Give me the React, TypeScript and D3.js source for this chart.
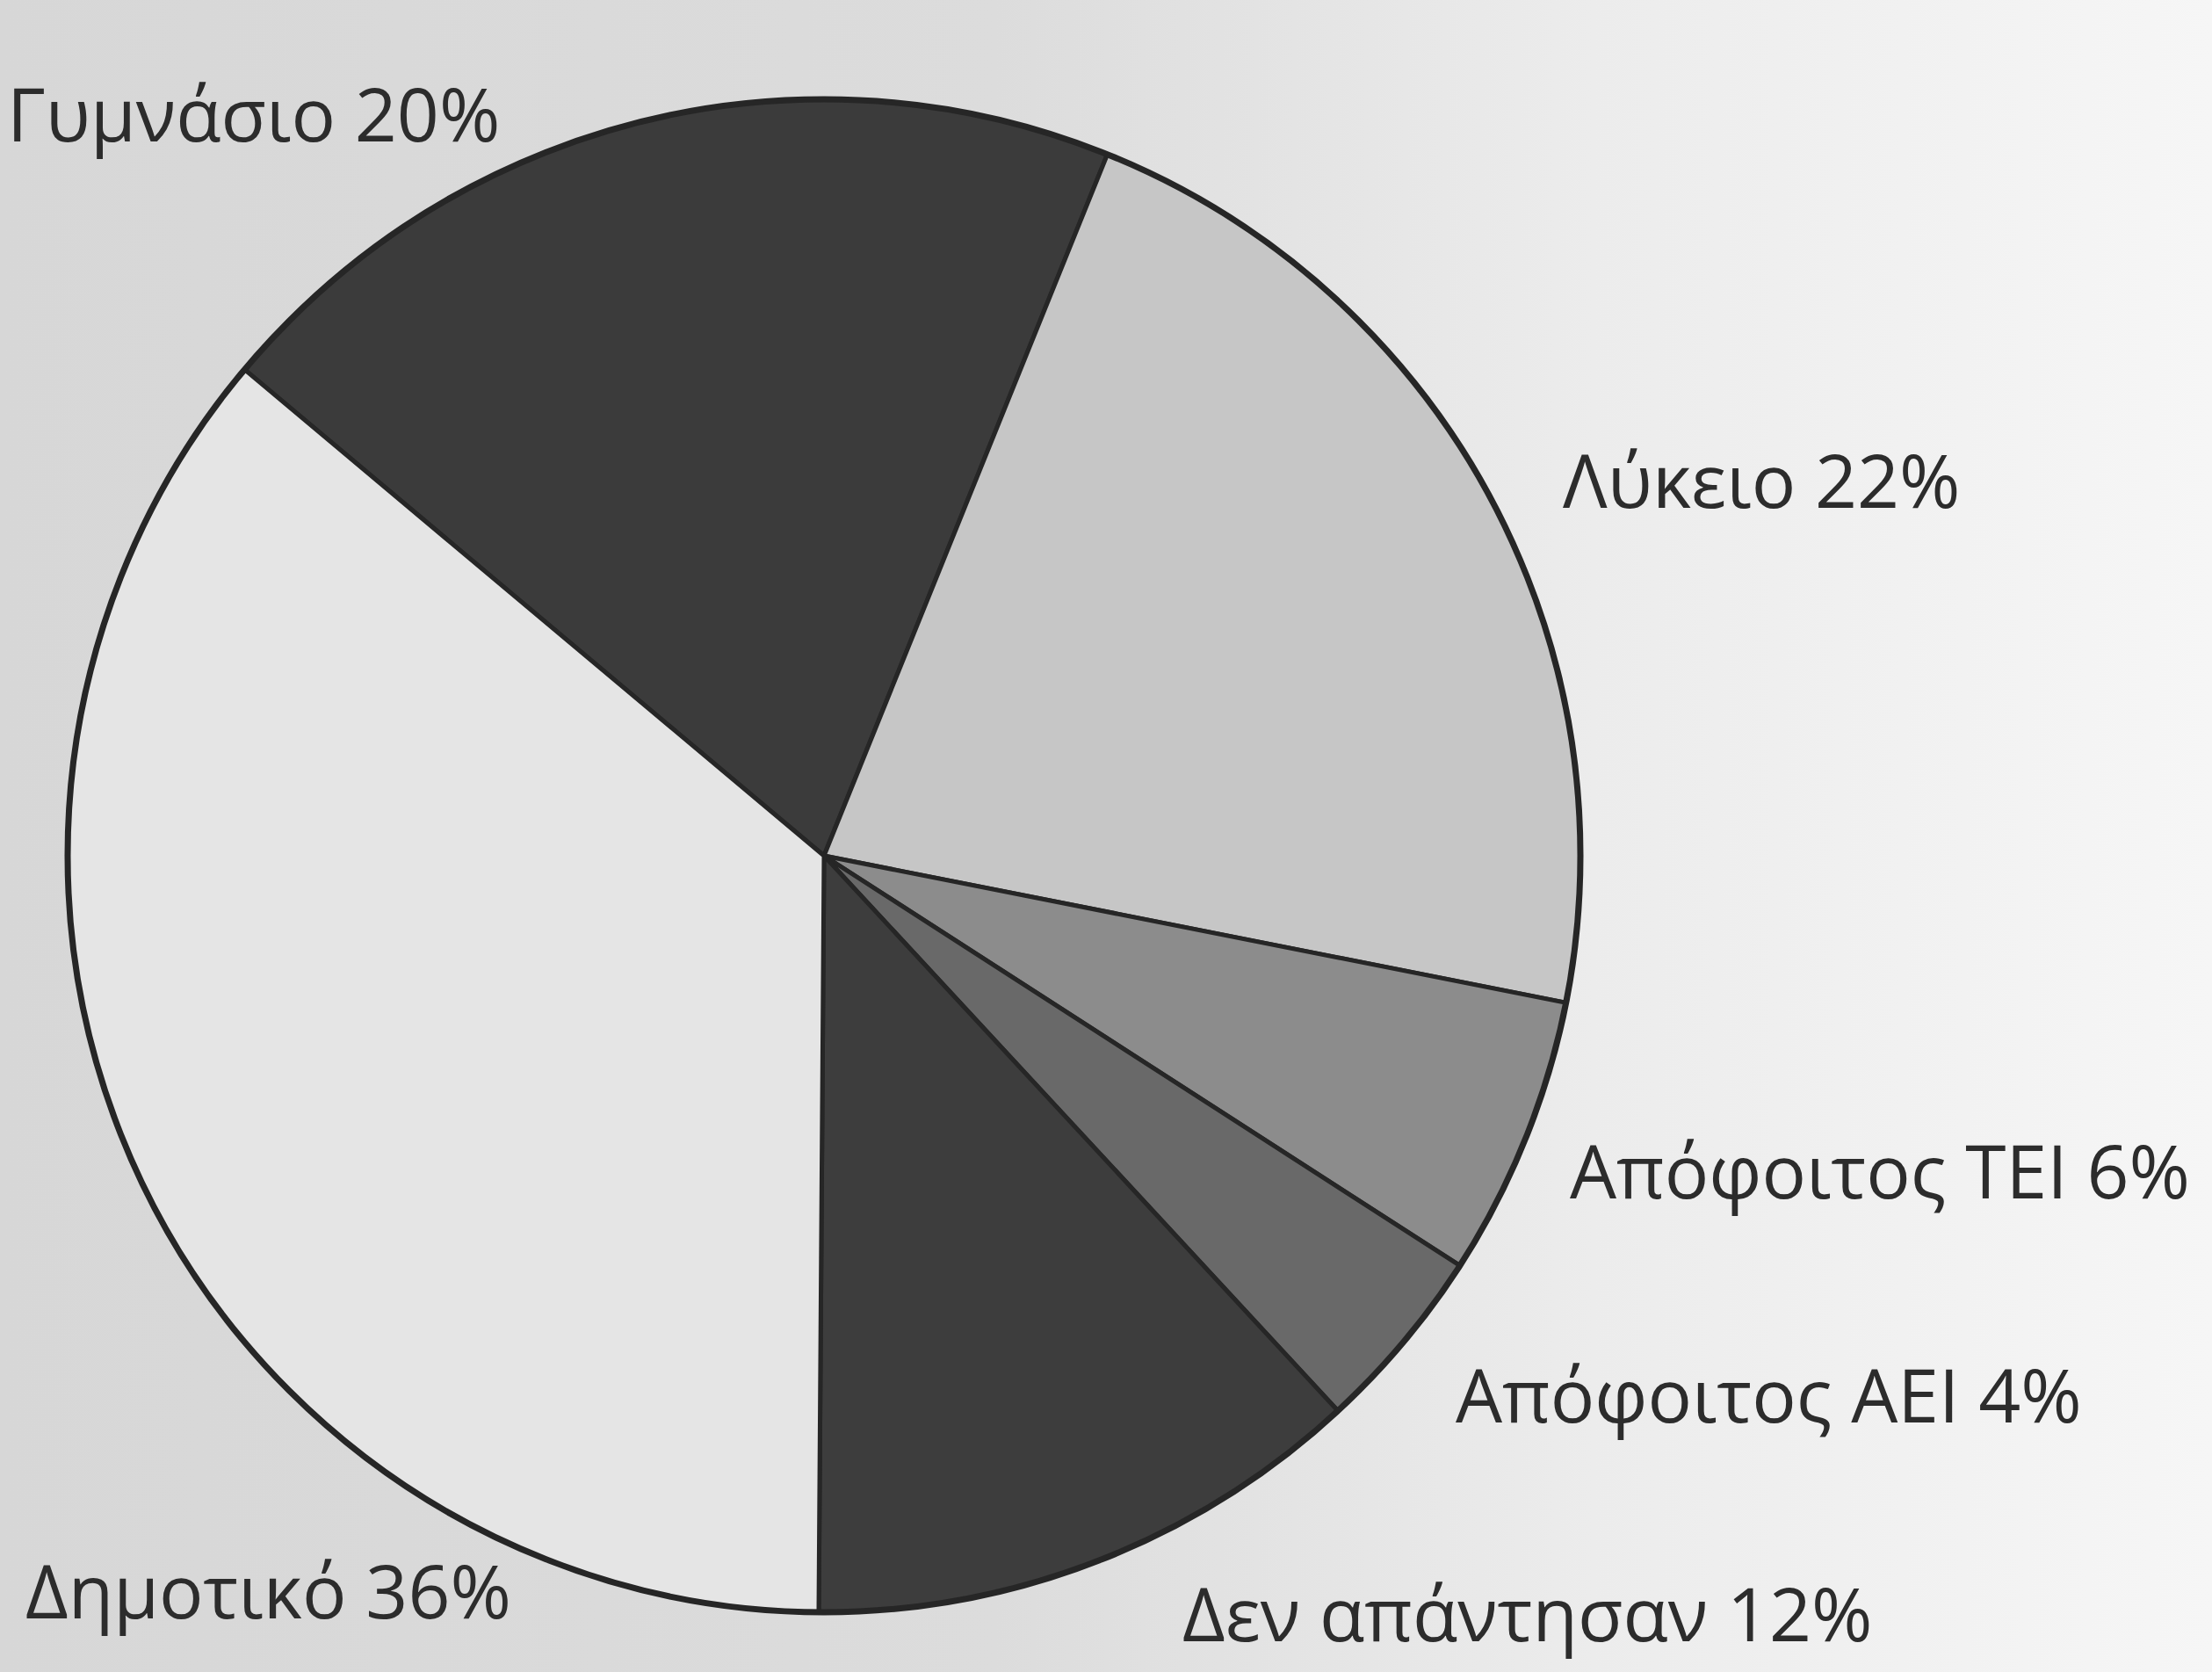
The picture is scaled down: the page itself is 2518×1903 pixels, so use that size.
import React from "react";
import * as d3 from "d3";

const categories = ["Γυμνάσιο", "Λύκειο", "Απόφοιτος ΤΕΙ", "Απόφοιτος ΑΕΙ", "Δεν απάντησαν", "Δημοτικό"];
const values = [20, 22, 6, 4, 12, 36];
const sliceColors = ["#3b3b3b", "#c6c6c6", "#8c8c8c", "#696969", "#3d3d3d", "#e5e5e5"];

// label layout: [x, baseline y]
const labelPos: [number, number][] = [
  [8, 161],
  [1779, 578],
  [1787, 1364],
  [1657, 1619],
  [1346, 1868],
  [29, 1842],
];

const W = 2518;
const H = 1903;
const CX = 938;
const CY = 974;
const R = 861;

export default function App() {
  const pie = d3
    .pie<number>()
    .sort(null)
    .value((d) => d)
    .startAngle((-50 * Math.PI) / 180)
    .endAngle((310 * Math.PI) / 180);
  const arcs = pie(values);
  const arc = d3.arc<d3.PieArcDatum<number>>().innerRadius(0).outerRadius(R);

  return (
    <svg
      width={W}
      height={H}
      viewBox={`0 0 ${W} ${H}`}
      style={{ position: "absolute", left: 0, top: 0, display: "block" }}
    >
      <defs>
        <linearGradient id="bg" x1="0" y1="0" x2="1" y2="0">
          <stop offset="0%" stopColor="#d7d7d7" />
          <stop offset="45%" stopColor="#dcdcdc" />
          <stop offset="72%" stopColor="#ececec" />
          <stop offset="100%" stopColor="#f6f6f6" />
        </linearGradient>
      </defs>
      <rect x={0} y={0} width={W} height={H} fill="url(#bg)" />
      <g transform={`translate(${CX},${CY})`}>
        {arcs.map((a, i) => (
          <path
            key={categories[i]}
            d={arc(a) || ""}
            fill={sliceColors[i]}
            stroke="#262626"
            strokeWidth={5}
            strokeLinejoin="round"
          />
        ))}
        <circle r={R} fill="none" stroke="#262626" strokeWidth={7} />
      </g>
      <g fontFamily="'Open Sans', 'Noto Sans', sans-serif" fontSize={84} fill="#2c2c2c">
        {categories.map((c, i) => (
          <text key={c} x={labelPos[i][0]} y={labelPos[i][1]}>
            {`${c} ${values[i]}%`}
          </text>
        ))}
      </g>
    </svg>
  );
}
